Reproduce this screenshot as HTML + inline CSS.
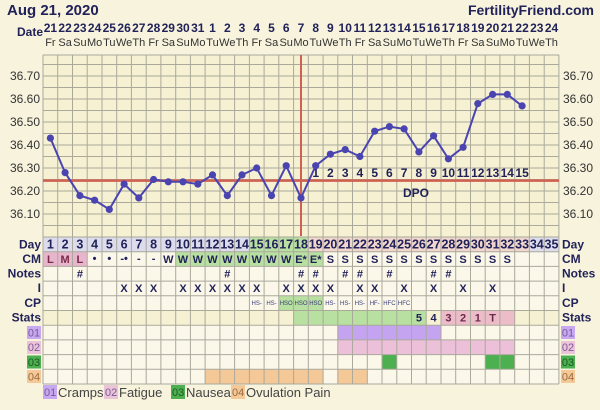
<!DOCTYPE html>
<html><head><meta charset="utf-8"><style>
html,body{margin:0;padding:0;background:#f7f3dc;}
svg{display:block;font-family:"Liberation Sans","DejaVu Sans",sans-serif;}
</style></head><body>
<svg width="600" height="410" viewBox="0 0 600 410" xmlns="http://www.w3.org/2000/svg">
<rect x="0" y="0" width="600" height="410" fill="#f7f3dc"/>
<text x="7" y="15" font-size="15" font-weight="bold" fill="#22225a">Aug 21, 2020</text>
<text x="594" y="15" font-size="14" font-weight="bold" fill="#22225a" text-anchor="end">FertilityFriend.com</text>
<text x="17" y="36" font-size="12" font-weight="bold" fill="#22225a">Date</text>
<g font-size="12" font-weight="bold" fill="#22225a" text-anchor="middle">
<text x="50.4" y="32">21</text><text x="65.1" y="32">22</text><text x="79.9" y="32">23</text><text x="94.6" y="32">24</text><text x="109.3" y="32">25</text><text x="124.1" y="32">26</text><text x="138.8" y="32">27</text><text x="153.6" y="32">28</text><text x="168.3" y="32">29</text><text x="183" y="32">30</text><text x="197.8" y="32">31</text><text x="212.5" y="32">1</text><text x="227.3" y="32">2</text><text x="242" y="32">3</text><text x="256.7" y="32">4</text><text x="271.5" y="32">5</text><text x="286.2" y="32">6</text><text x="301" y="32">7</text><text x="315.7" y="32">8</text><text x="330.4" y="32">9</text><text x="345.2" y="32">10</text><text x="359.9" y="32">11</text><text x="374.7" y="32">12</text><text x="389.4" y="32">13</text><text x="404.1" y="32">14</text><text x="418.9" y="32">15</text><text x="433.6" y="32">16</text><text x="448.4" y="32">17</text><text x="463.1" y="32">18</text><text x="477.8" y="32">19</text><text x="492.6" y="32">20</text><text x="507.3" y="32">21</text><text x="522.1" y="32">22</text><text x="536.8" y="32">23</text><text x="551.5" y="32">24</text>
</g>
<g font-size="11" fill="#333" text-anchor="middle">
<text x="50.4" y="46">Fr</text><text x="65.1" y="46">Sa</text><text x="79.9" y="46">Su</text><text x="94.6" y="46">Mo</text><text x="109.3" y="46">Tu</text><text x="124.1" y="46">We</text><text x="138.8" y="46">Th</text><text x="153.6" y="46">Fr</text><text x="168.3" y="46">Sa</text><text x="183" y="46">Su</text><text x="197.8" y="46">Mo</text><text x="212.5" y="46">Tu</text><text x="227.3" y="46">We</text><text x="242" y="46">Th</text><text x="256.7" y="46">Fr</text><text x="271.5" y="46">Sa</text><text x="286.2" y="46">Su</text><text x="301" y="46">Mo</text><text x="315.7" y="46">Tu</text><text x="330.4" y="46">We</text><text x="345.2" y="46">Th</text><text x="359.9" y="46">Fr</text><text x="374.7" y="46">Sa</text><text x="389.4" y="46">Su</text><text x="404.1" y="46">Mo</text><text x="418.9" y="46">Tu</text><text x="433.6" y="46">We</text><text x="448.4" y="46">Th</text><text x="463.1" y="46">Fr</text><text x="477.8" y="46">Sa</text><text x="492.6" y="46">Su</text><text x="507.3" y="46">Mo</text><text x="522.1" y="46">Tu</text><text x="536.8" y="46">We</text><text x="551.5" y="46">Th</text>
</g>
<!-- grid background -->
<rect x="43" y="55" width="516" height="329" fill="#f6f1d2"/>
<!-- row fills -->
<rect x="43" y="237" width="206.4" height="14.7" fill="#dcdcec"/>
<rect x="249.4" y="237" width="58.9" height="14.7" fill="#b8e0a0"/>
<rect x="308.3" y="237" width="221.1" height="14.7" fill="#f0d6cc"/>
<rect x="529.4" y="237" width="29.5" height="14.7" fill="#dcdcec"/>
<rect x="43" y="251.7" width="44.2" height="14.7" fill="#e8b6cc"/>
<rect x="43" y="251.7" width="516" height="14.7" fill="none"/>
<rect x="87.2" y="251.7" width="88.5" height="14.7" fill="#fbf8ea"/>
<rect x="175.7" y="251.7" width="147.4" height="14.7" fill="#b8e0a0"/>
<rect x="323.1" y="251.7" width="235.8" height="14.7" fill="#fbf8ea"/>
<rect x="43" y="266.4" width="516" height="44.1" fill="#fbf8ea"/>
<rect x="278.8" y="295.8" width="44.3" height="14.7" fill="#b8e0a0"/>
<rect x="293.6" y="310.5" width="132.6" height="14.7" fill="#b8e0a0"/>
<rect x="441" y="310.5" width="73.7" height="14.7" fill="#ecbcc8"/>
<rect x="43" y="325.2" width="516" height="58.8" fill="#fbf8ea"/>
<rect x="337.8" y="325.2" width="103.2" height="14.7" fill="#c4a4f0"/>
<rect x="337.8" y="339.9" width="176.9" height="14.7" fill="#ecc0d8"/>
<rect x="382" y="354.6" width="14.8" height="14.7" fill="#4caf50"/>
<rect x="485.2" y="354.6" width="29.5" height="14.7" fill="#4caf50"/>
<rect x="205.1" y="369.3" width="118" height="14.7" fill="#f5c898"/>
<rect x="337.8" y="369.3" width="29.5" height="14.7" fill="#f5c898"/>
<!-- grid lines -->
<g stroke="#aaa99c" stroke-width="1">
<path d="M43 55H559M43 64.5H559M43 76H559M43 87.5H559M43 99H559M43 110.5H559M43 122H559M43 133.5H559M43 145H559M43 156.5H559M43 168H559M43 179.5H559M43 191H559M43 202.5H559M43 214H559M43 225.5H559M43 237H559M43 251.7H559M43 266.4H559M43 281.1H559M43 295.8H559M43 310.5H559M43 325.2H559M43 339.9H559M43 354.6H559M43 369.3H559M43 384H559"/>
<path d="M43 55V384M57.7 55V384M72.5 55V384M87.2 55V384M102 55V384M116.7 55V384M131.4 55V384M146.2 55V384M160.9 55V384M175.7 55V384M190.4 55V384M205.1 55V384M219.9 55V384M234.6 55V384M249.4 55V384M264.1 55V384M278.8 55V384M293.6 55V384M308.3 55V384M323.1 55V384M337.8 55V384M352.5 55V384M367.3 55V384M382 55V384M396.8 55V384M411.5 55V384M426.2 55V384M441 55V384M455.7 55V384M470.5 55V384M485.2 55V384M499.9 55V384M514.7 55V384M529.4 55V384M544.2 55V384M558.9 55V384"/>
</g>
<!-- y labels -->
<g font-size="12" fill="#333">
<g text-anchor="end"><text x="40" y="80">36.70</text><text x="40" y="103">36.60</text><text x="40" y="126">36.50</text><text x="40" y="149">36.40</text><text x="40" y="172">36.30</text><text x="40" y="195">36.20</text><text x="40" y="218">36.10</text></g>
<text x="563" y="80">36.70</text><text x="563" y="103">36.60</text><text x="563" y="126">36.50</text><text x="563" y="149">36.40</text><text x="563" y="172">36.30</text><text x="563" y="195">36.20</text><text x="563" y="218">36.10</text>
</g>
<!-- coverline & ovulation -->
<line x1="43" y1="180.6" x2="559" y2="180.6" stroke="#d06050" stroke-width="2.5"/>
<line x1="301" y1="55" x2="301" y2="236" stroke="#d06050" stroke-width="2"/>
<!-- DPO -->
<g font-size="12" font-weight="bold" fill="#22225a" text-anchor="middle">
<text x="315.7" y="177">1</text><text x="330.4" y="177">2</text><text x="345.2" y="177">3</text><text x="359.9" y="177">4</text><text x="374.7" y="177">5</text><text x="389.4" y="177">6</text><text x="404.1" y="177">7</text><text x="418.9" y="177">8</text><text x="433.6" y="177">9</text><text x="448.4" y="177">10</text><text x="463.1" y="177">11</text><text x="477.8" y="177">12</text><text x="492.6" y="177">13</text><text x="507.3" y="177">14</text><text x="522.1" y="177">15</text>
<text x="416" y="197">DPO</text>
</g>
<!-- temp line -->
<polyline fill="none" stroke="#4a44b0" stroke-width="2" points="50.4,138.1 65.1,172.6 79.9,195.6 94.6,200.2 109.3,209.4 124.1,184.1 138.8,197.9 153.6,179.5 168.3,181.8 183,181.8 197.8,184.1 212.5,174.9 227.3,195.6 242,174.9 256.7,168 271.5,195.6 286.2,165.7 301,197.9 315.7,165.7 330.4,154.2 345.2,149.6 359.9,156.5 374.7,131.2 389.4,126.6 404.1,128.9 418.9,151.9 433.6,135.8 448.4,158.8 463.1,147.3 477.8,103.6 492.6,94.4 507.3,94.4 522.1,105.9"/>
<g fill="#4a44b0">
<circle cx="50.4" cy="138.1" r="3.6"/><circle cx="65.1" cy="172.6" r="3.6"/><circle cx="79.9" cy="195.6" r="3.6"/><circle cx="94.6" cy="200.2" r="3.6"/><circle cx="109.3" cy="209.4" r="3.6"/><circle cx="124.1" cy="184.1" r="3.6"/><circle cx="138.8" cy="197.9" r="3.6"/><circle cx="153.6" cy="179.5" r="3.6"/><circle cx="168.3" cy="181.8" r="3.6"/><circle cx="183" cy="181.8" r="3.6"/><circle cx="197.8" cy="184.1" r="3.6"/><circle cx="212.5" cy="174.9" r="3.6"/><circle cx="227.3" cy="195.6" r="3.6"/><circle cx="242" cy="174.9" r="3.6"/><circle cx="256.7" cy="168" r="3.6"/><circle cx="271.5" cy="195.6" r="3.6"/><circle cx="286.2" cy="165.7" r="3.6"/><circle cx="301" cy="197.9" r="3.6"/><circle cx="315.7" cy="165.7" r="3.6"/><circle cx="330.4" cy="154.2" r="3.6"/><circle cx="345.2" cy="149.6" r="3.6"/><circle cx="359.9" cy="156.5" r="3.6"/><circle cx="374.7" cy="131.2" r="3.6"/><circle cx="389.4" cy="126.6" r="3.6"/><circle cx="404.1" cy="128.9" r="3.6"/><circle cx="418.9" cy="151.9" r="3.6"/><circle cx="433.6" cy="135.8" r="3.6"/><circle cx="448.4" cy="158.8" r="3.6"/><circle cx="463.1" cy="147.3" r="3.6"/><circle cx="477.8" cy="103.6" r="3.6"/><circle cx="492.6" cy="94.4" r="3.6"/><circle cx="507.3" cy="94.4" r="3.6"/><circle cx="522.1" cy="105.9" r="3.6"/>
</g>
<!-- row labels -->
<g font-size="12" font-weight="bold" fill="#22225a">
<g text-anchor="end"><text x="41" y="248.5">Day</text><text x="41" y="263">CM</text><text x="41" y="277.5">Notes</text><text x="41" y="292">I</text><text x="41" y="307">CP</text><text x="41" y="321.5">Stats</text></g>
<text x="562" y="248.5">Day</text><text x="562" y="263">CM</text><text x="562" y="277.5">Notes</text><text x="562" y="292">I</text><text x="562" y="307">CP</text><text x="562" y="321.5">Stats</text>
</g>
<rect x="27" y="326" width="14" height="13" fill="#c8a8f0"/><rect x="27" y="341" width="14" height="13" fill="#ecc4d8"/><rect x="27" y="355.5" width="14" height="13" fill="#4caf50"/><rect x="27" y="370" width="14" height="13" fill="#f5c898"/>
<rect x="561" y="326" width="14" height="13" fill="#c8a8f0"/><rect x="561" y="341" width="14" height="13" fill="#ecc4d8"/><rect x="561" y="355.5" width="14" height="13" fill="#4caf50"/><rect x="561" y="370" width="14" height="13" fill="#f5c898"/>
<g font-size="11" fill="#7a5a9a" text-anchor="middle">
<text x="34" y="336.5">01</text><text x="34" y="351">02</text><text x="34" y="366" fill="#1d5a20">03</text><text x="34" y="380.5" fill="#9a6a40">04</text>
<text x="568" y="336.5">01</text><text x="568" y="351">02</text><text x="568" y="366" fill="#1d5a20">03</text><text x="568" y="380.5" fill="#9a6a40">04</text>
</g>
<!-- Day numbers -->
<g font-size="12.5" font-weight="bold" fill="#22225a" text-anchor="middle">
<text x="50.4" y="248.5">1</text><text x="65.1" y="248.5">2</text><text x="79.9" y="248.5">3</text><text x="94.6" y="248.5">4</text><text x="109.3" y="248.5">5</text><text x="124.1" y="248.5">6</text><text x="138.8" y="248.5">7</text><text x="153.6" y="248.5">8</text><text x="168.3" y="248.5">9</text><text x="183" y="248.5">10</text><text x="197.8" y="248.5">11</text><text x="212.5" y="248.5">12</text><text x="227.3" y="248.5">13</text><text x="242" y="248.5">14</text><text x="256.7" y="248.5">15</text><text x="271.5" y="248.5">16</text><text x="286.2" y="248.5">17</text><text x="301" y="248.5">18</text><text x="315.7" y="248.5">19</text><text x="330.4" y="248.5">20</text><text x="345.2" y="248.5">21</text><text x="359.9" y="248.5">22</text><text x="374.7" y="248.5">23</text><text x="389.4" y="248.5">24</text><text x="404.1" y="248.5">25</text><text x="418.9" y="248.5">26</text><text x="433.6" y="248.5">27</text><text x="448.4" y="248.5">28</text><text x="463.1" y="248.5">29</text><text x="477.8" y="248.5">30</text><text x="492.6" y="248.5">31</text><text x="507.3" y="248.5">32</text><text x="522.1" y="248.5">33</text><text x="536.8" y="248.5">34</text><text x="551.5" y="248.5">35</text>
</g>
<!-- CM -->
<g font-size="11" font-weight="bold" fill="#22225a" text-anchor="middle">
<text x="50.4" y="263" fill="#7a2a4a">L</text><text x="65.1" y="263" fill="#7a2a4a">M</text><text x="79.9" y="263" fill="#7a2a4a">L</text><text x="94.6" y="262">•</text><text x="109.3" y="262">•</text><text x="124.1" y="262">-•</text><text x="138.8" y="262">-</text><text x="153.6" y="262">-</text>
<text x="168.3" y="263">W</text><text x="183" y="263">W</text><text x="197.8" y="263">W</text><text x="212.5" y="263">W</text><text x="227.3" y="263">W</text><text x="242" y="263">W</text><text x="256.7" y="263">W</text><text x="271.5" y="263">W</text><text x="286.2" y="263">W</text><text x="301" y="263">E*</text><text x="315.7" y="263">E*</text>
<text x="330.4" y="263">S</text><text x="345.2" y="263">S</text><text x="359.9" y="263">S</text><text x="374.7" y="263">S</text><text x="389.4" y="263">S</text><text x="404.1" y="263">S</text><text x="418.9" y="263">S</text><text x="433.6" y="263">S</text><text x="448.4" y="263">S</text><text x="463.1" y="263">S</text><text x="477.8" y="263">S</text><text x="492.6" y="263">S</text><text x="507.3" y="263">S</text>
<!-- notes -->
<text x="79.9" y="277.5">#</text><text x="227.3" y="277.5">#</text><text x="301" y="277.5">#</text><text x="315.7" y="277.5">#</text><text x="345.2" y="277.5">#</text><text x="359.9" y="277.5">#</text><text x="389.4" y="277.5">#</text><text x="433.6" y="277.5">#</text><text x="448.4" y="277.5">#</text>
<!-- I -->
<text x="124.1" y="292">X</text><text x="138.8" y="292">X</text><text x="153.6" y="292">X</text><text x="183" y="292">X</text><text x="197.8" y="292">X</text><text x="212.5" y="292">X</text><text x="227.3" y="292">X</text><text x="242" y="292">X</text><text x="256.7" y="292">X</text><text x="286.2" y="292">X</text><text x="301" y="292">X</text><text x="315.7" y="292">X</text><text x="330.4" y="292">X</text><text x="359.9" y="292">X</text><text x="374.7" y="292">X</text><text x="404.1" y="292">X</text><text x="433.6" y="292">X</text><text x="463.1" y="292">X</text><text x="492.6" y="292">X</text>
<!-- stats -->
<text x="418.9" y="321.5">5</text><text x="433.6" y="321.5">4</text><text x="448.4" y="321.5" fill="#6a2a4a">3</text><text x="463.1" y="321.5" fill="#6a2a4a">2</text><text x="477.8" y="321.5" fill="#6a2a4a">1</text><text x="492.6" y="321.5" fill="#6a2a4a">T</text>
</g>
<!-- CP -->
<g font-size="6" fill="#3a3a7a" text-anchor="middle">
<text x="256.7" y="305">HS-</text><text x="271.5" y="305">HS-</text><text x="286.2" y="305">HSO</text><text x="301" y="305">HSO</text><text x="315.7" y="305">HSO</text><text x="330.4" y="305">HS-</text><text x="345.2" y="305">HS-</text><text x="359.9" y="305">HS-</text><text x="374.7" y="305">HF-</text><text x="389.4" y="305">HFC</text><text x="404.1" y="305">HFC</text>
</g>
<!-- legend -->
<g font-size="13" fill="#444">
<rect x="43" y="385" width="14" height="14" fill="#c8a8f0"/><text x="44" y="396" font-size="11" fill="#7a5a9a">01</text><text x="58" y="397">Cramps</text>
<rect x="104" y="385" width="14" height="14" fill="#ecc4d8"/><text x="105" y="396" font-size="11" fill="#7a5a9a">02</text><text x="119" y="397">Fatigue</text>
<rect x="171" y="385" width="14" height="14" fill="#4caf50"/><text x="172" y="396" font-size="11" fill="#1d5a20">03</text><text x="186" y="397">Nausea</text>
<rect x="231" y="385" width="14" height="14" fill="#f5c898"/><text x="232" y="396" font-size="11" fill="#9a6a40">04</text><text x="246" y="397">Ovulation Pain</text>
</g>
</svg>
</body></html>
